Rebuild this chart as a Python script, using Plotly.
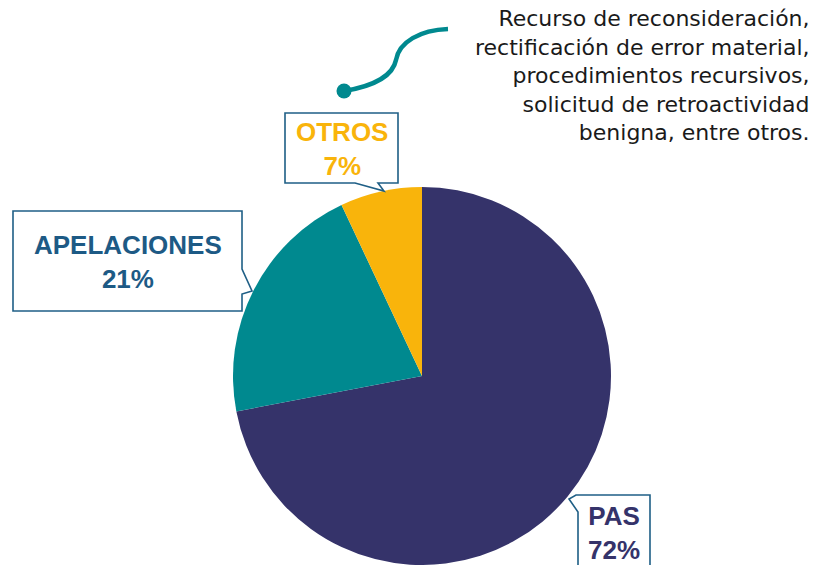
import plotly.graph_objects as go

W, H = 817, 565

categories = ["PAS", "APELACIONES", "OTROS"]
values = [72, 21, 7]
slice_colors = ["#35336A", "#00898F", "#F9B40B"]
label_colors = ["#35336A", "#1D5A85", "#F9B40B"]
note_lines = [
    "Recurso de reconsideración,",
    "rectificación de error material,",
    "procedimientos recursivos,",
    "solicitud de retroactividad",
    "benigna, entre otros.",
]

def px(x):
    return x / W

def py(y):
    return 1 - y / H

def path(points):
    s = "M " + " L ".join(f"{px(x):.5f},{py(y):.5f}" for x, y in points) + " Z"
    return s

# pie placement (pixels)
cx, cy, r = 422, 376, 189

fig = go.Figure()
fig.add_trace(go.Pie(
    labels=categories,
    values=values,
    sort=False,
    direction="clockwise",
    rotation=0,
    marker=dict(colors=slice_colors, line=dict(width=0)),
    textinfo="none",
    hoverinfo="label+percent",
    domain=dict(x=[px(cx - r), px(cx + r)], y=[0, py(cy - r)]),
    showlegend=False,
))

border = "#1F5F86"
shapes = []
# APELACIONES callout
shapes.append(dict(type="path", xref="paper", yref="paper",
    path=path([(13, 211), (242, 211), (242, 269), (252, 291), (242, 294), (242, 311), (13, 311)]),
    line=dict(color=border, width=1.6), fillcolor="white", layer="above"))
# OTROS callout
shapes.append(dict(type="path", xref="paper", yref="paper",
    path=path([(285, 113), (398, 113), (398, 183), (378, 183), (384, 191), (355, 183), (285, 183)]),
    line=dict(color=border, width=1.6), fillcolor="white", layer="above"))
# PAS callout
shapes.append(dict(type="path", xref="paper", yref="paper",
    path=path([(650, 495), (576, 495), (569, 499), (578, 512), (578, 575), (650, 575)]),
    line=dict(color=border, width=1.6), fillcolor="white", layer="above"))
# decorative curve
p0 = (344, 91); c1 = (375, 86); c2 = (393, 75); p1 = (396, 60)
c3 = (399, 42); c4 = (420, 30); p2 = (448, 29)
def pt(p):
    return f"{px(p[0]):.5f},{py(p[1]):.5f}"
shapes.append(dict(type="path", xref="paper", yref="paper",
    path=f"M {pt(p0)} C {pt(c1)} {pt(c2)} {pt(p1)} C {pt(c3)} {pt(c4)} {pt(p2)}",
    line=dict(color="#00898F", width=4.5), layer="above"))
shapes.append(dict(type="circle", xref="paper", yref="paper",
    x0=px(344 - 7.5), x1=px(344 + 7.5), y0=py(91 + 7.5), y1=py(91 - 7.5),
    fillcolor="#00898F", line=dict(width=0), layer="above"))

annotations = []
label_pos = {"APELACIONES": (127.5, 262), "OTROS": (341.5, 149), "PAS": (614, 533)}
for cat, val, col in zip(categories, values, label_colors):
    x, y = label_pos[cat]
    annotations.append(dict(
        x=px(x), y=py(y), xref="paper", yref="paper", showarrow=False,
        text=f"<b>{cat}<br>{val}%</b>", align="center",
        font=dict(family="Liberation Sans, Arial", size=26, color=col),
        xanchor="center", yanchor="middle"))

annotations.append(dict(
    x=px(812), y=py(4), xref="paper", yref="paper", showarrow=False,
    text="<br>".join(note_lines), align="right",
    font=dict(family="DejaVu Sans", size=22, color="#1A1A1A"),
    xanchor="right", yanchor="top"))

fig.update_layout(
    width=W, height=H,
    margin=dict(l=0, r=0, t=0, b=0),
    paper_bgcolor="white", plot_bgcolor="white",
    shapes=shapes, annotations=annotations,
    showlegend=False,
)

fig.write_html("out.html", config={"displayModeBar": False},
               post_script="document.body.style.margin='0';")
